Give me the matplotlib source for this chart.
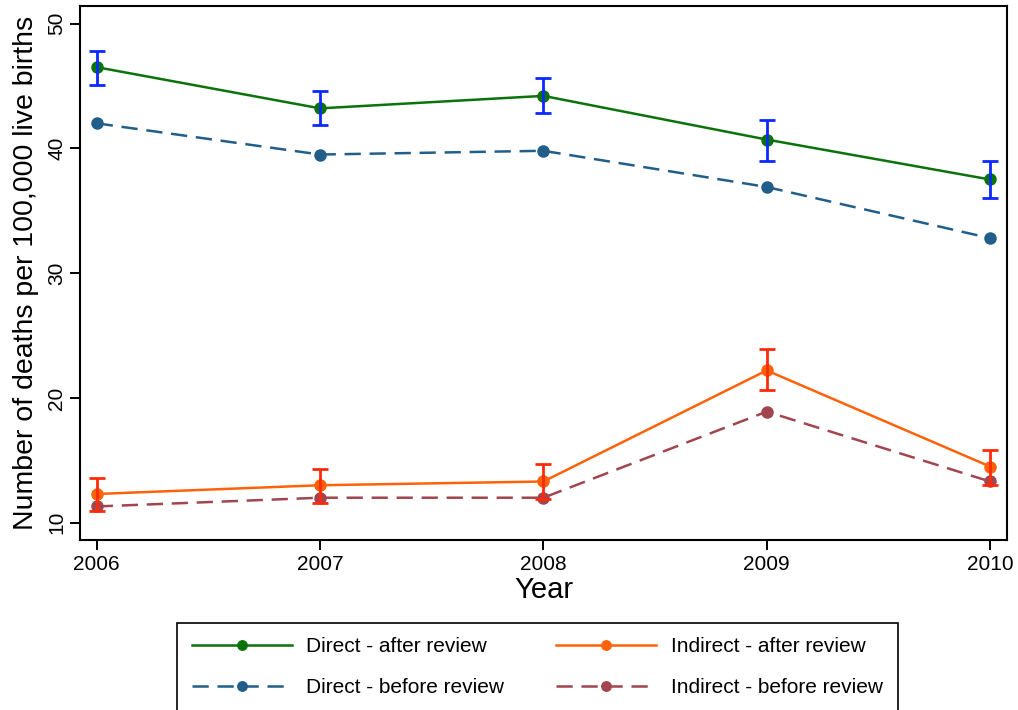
import matplotlib
matplotlib.use("Agg")
import matplotlib.pyplot as plt

plt.rcParams['font.family'] = ['Liberation Sans', 'DejaVu Sans']

years = [2006, 2007, 2008, 2009, 2010]

direct_after = [46.5, 43.2, 44.2, 40.7, 37.5]
direct_after_lo = [45.1, 41.9, 42.8, 39.0, 36.0]
direct_after_hi = [47.8, 44.6, 45.6, 42.3, 39.0]
direct_before = [42.0, 39.5, 39.8, 36.9, 32.8]

indirect_after = [12.3, 13.0, 13.3, 22.2, 14.5]
indirect_after_lo = [10.9, 11.6, 11.9, 20.6, 13.0]
indirect_after_hi = [13.6, 14.3, 14.7, 23.9, 15.8]
indirect_before = [11.3, 12.0, 12.0, 18.9, 13.3]

c_green = '#0b730b'
c_navy = '#215e8a'
c_orange = '#ff6208'
c_maroon = '#a1454f'

fig = plt.figure(figsize=(10.18, 7.10), dpi=100)
ax = fig.add_axes([0.0786, 0.2394, 0.9106, 0.7521])


def err(vals, lo, hi):
    return [[v - l for v, l in zip(vals, lo)], [h - v for v, h in zip(vals, hi)]]


l1, = ax.plot(years, direct_after, '-o', color=c_green, lw=1.8, ms=8, zorder=4)
ax.errorbar(years, direct_after, yerr=err(direct_after, direct_after_lo, direct_after_hi),
            fmt='none', ecolor='#0a28ff', elinewidth=2, capsize=6, capthick=2, zorder=5)
l2, = ax.plot(years, direct_before, '--o', color=c_navy, lw=1.8, ms=8, dashes=(6.5, 3.5), zorder=3)

l3, = ax.plot(years, indirect_after, '-o', color=c_orange, lw=1.8, ms=8, zorder=4)
ax.errorbar(years, indirect_after, yerr=err(indirect_after, indirect_after_lo, indirect_after_hi),
            fmt='none', ecolor='#ff2a0a', elinewidth=2, capsize=6, capthick=2, zorder=5)
l4, = ax.plot(years, indirect_before, '--o', color=c_maroon, lw=1.8, ms=8, dashes=(6.5, 3.5), zorder=3)

ax.set_xlim(2005.925, 2010.076)
ax.set_ylim(8.61, 51.4)
ax.set_xticks(years)
ax.set_yticks([10, 20, 30, 40, 50])
ax.tick_params(axis='both', direction='out', length=7, width=1.4, labelsize=15)
ax.tick_params(axis='y', pad=3)
for lab in ax.get_yticklabels():
    lab.set_rotation(90)
    lab.set_va('center')
for s in ax.spines.values():
    s.set_linewidth(1.5)

ax.set_xlabel('Year', fontsize=21, labelpad=2)
ax.set_ylabel('Number of deaths per 100,000 live births', fontsize=20.5, labelpad=6)

leg = fig.legend([l1, l2, l3, l4],
                 ['Direct - after review', 'Direct - before review',
                  'Indirect - after review', 'Indirect - before review'],
                 ncol=2, loc='upper left', bbox_to_anchor=(0.174, 0.123),
                 fontsize=15, handlelength=4.8, numpoints=1, markerscale=0.85,
                 fancybox=False, edgecolor='black', framealpha=1, columnspacing=2.5,
                 handletextpad=0.7, labelspacing=1.05, borderpad=0.7, borderaxespad=0)
leg.get_frame().set_linewidth(1.2)

fig.savefig('out.png', dpi=100)
